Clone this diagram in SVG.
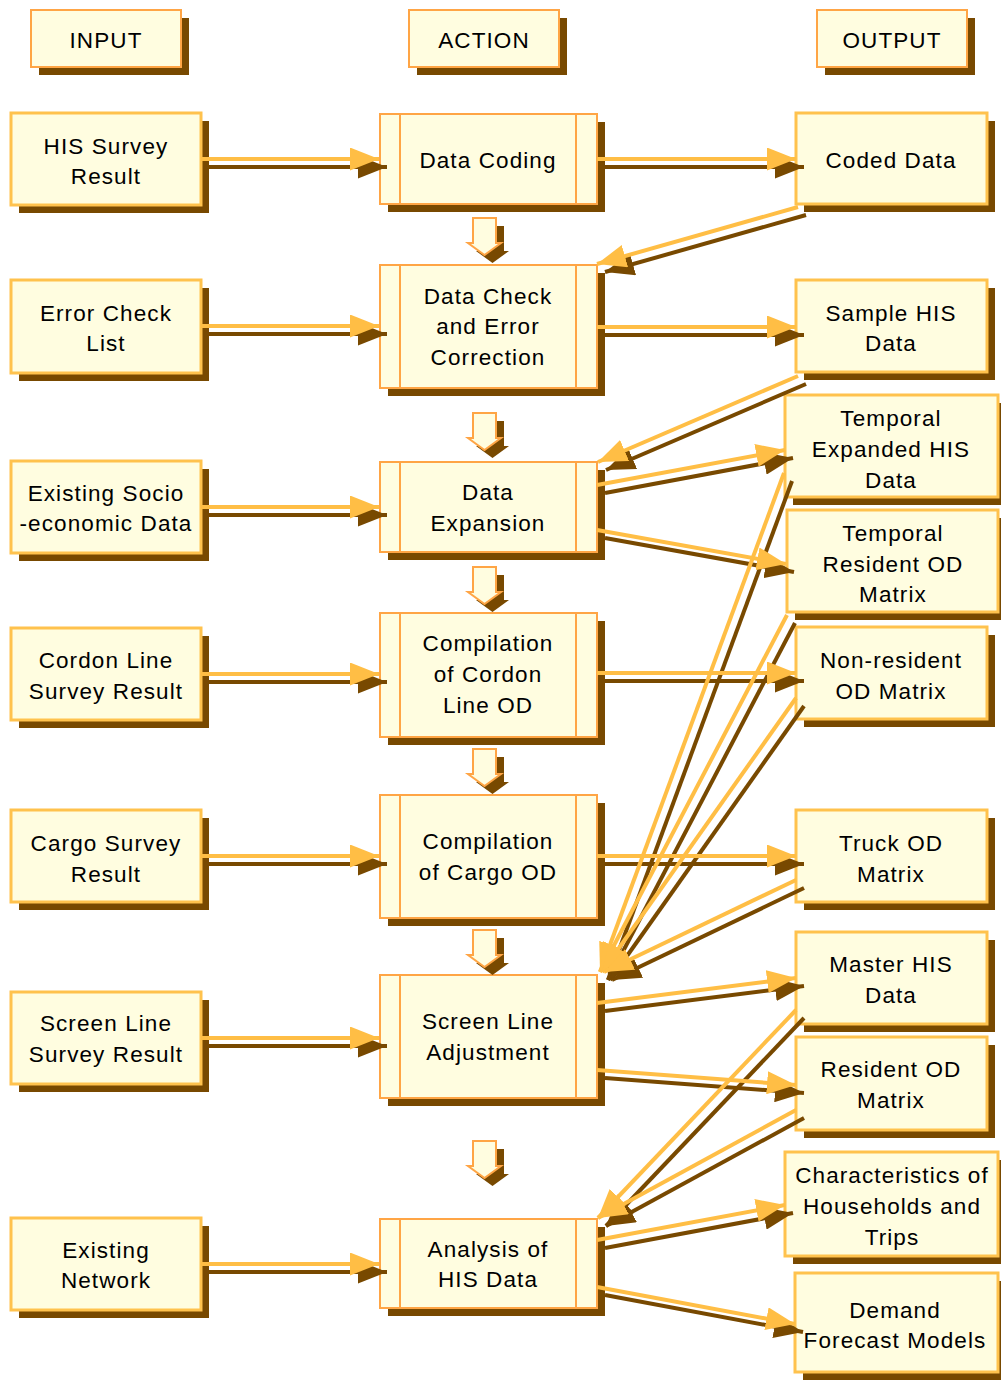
<svg xmlns="http://www.w3.org/2000/svg" width="1001" height="1383" viewBox="0 0 1001 1383">
<style>
.sh{fill:#784900}
.hd{fill:#FFFDE0;stroke:#FFA545;stroke-width:2}
.io{fill:#FFFDE0;stroke:#FFC24D;stroke-width:3}
.ac{fill:#FFFDE0;stroke:#FFA545;stroke-width:2}
.ln{stroke:#FFA545;stroke-width:2}
.da{fill:#FFFDE0;stroke:#FFA545;stroke-width:2}
text{font-family:"Liberation Sans",Arial,sans-serif;font-size:22.5px;letter-spacing:1.1px;fill:#000;text-anchor:middle}
.cy{stroke:#FFBE45;stroke-width:4;fill:none;marker-end:url(#ay)}
.cb{stroke:#784900;stroke-width:4;fill:none;marker-end:url(#ab)}
</style>
<defs>
<marker id="ay" viewBox="0 0 29 23" refX="29" refY="11.5" markerWidth="29" markerHeight="23" markerUnits="userSpaceOnUse" orient="auto"><path d="M0,0 L29,11.5 L0,23 Z" fill="#FFBE45"/></marker>
<marker id="ab" viewBox="0 0 29 23" refX="29" refY="11.5" markerWidth="29" markerHeight="23" markerUnits="userSpaceOnUse" orient="auto"><path d="M0,0 L29,11.5 L0,23 Z" fill="#784900"/></marker>
<path id="darrow" d="M-11.5,0 H11.5 V25 H16.5 L0,37 L-16.5,25 H-11.5 Z"/>
</defs>
<rect width="1001" height="1383" fill="#fff"/>

<g id="headers">
<g id="h-input"><rect class="sh" x="39" y="18" width="150" height="57"/><rect class="hd" x="31" y="10" width="150" height="57"/><text x="106" y="48">INPUT</text></g>
<g id="h-action"><rect class="sh" x="417" y="18" width="150" height="57"/><rect class="hd" x="409" y="10" width="150" height="57"/><text x="484" y="48">ACTION</text></g>
<g id="h-output"><rect class="sh" x="825" y="18" width="150" height="57"/><rect class="hd" x="817" y="10" width="150" height="57"/><text x="892" y="48">OUTPUT</text></g>
</g>

<g id="inputs">
<g id="in1"><rect class="sh" x="19" y="121" width="190" height="92"/><rect class="io" x="11" y="113" width="190" height="92"/><text x="106" y="154">HIS Survey</text><text x="106" y="184">Result</text></g>
<g id="in2"><rect class="sh" x="19" y="288" width="190" height="93"/><rect class="io" x="11" y="280" width="190" height="93"/><text x="106" y="321">Error Check</text><text x="106" y="351">List</text></g>
<g id="in3"><rect class="sh" x="19" y="469" width="190" height="92"/><rect class="io" x="11" y="461" width="190" height="92"/><text x="106" y="501">Existing Socio</text><text x="106" y="531">-economic Data</text></g>
<g id="in4"><rect class="sh" x="19" y="636" width="190" height="92"/><rect class="io" x="11" y="628" width="190" height="92"/><text x="106" y="668">Cordon Line</text><text x="106" y="699">Survey Result</text></g>
<g id="in5"><rect class="sh" x="19" y="818" width="190" height="92"/><rect class="io" x="11" y="810" width="190" height="92"/><text x="106" y="851">Cargo Survey</text><text x="106" y="882">Result</text></g>
<g id="in6"><rect class="sh" x="19" y="1000" width="190" height="92"/><rect class="io" x="11" y="992" width="190" height="92"/><text x="106" y="1031">Screen Line</text><text x="106" y="1062">Survey Result</text></g>
<g id="in7"><rect class="sh" x="19" y="1226" width="190" height="92"/><rect class="io" x="11" y="1218" width="190" height="92"/><text x="106" y="1258">Existing</text><text x="106" y="1288">Network</text></g>
</g>

<g id="actions">
<g id="ac1"><rect class="sh" x="388" y="122" width="217" height="90"/><rect class="ac" x="380" y="114" width="217" height="90"/><line class="ln" x1="400" y1="114" x2="400" y2="204"/><line class="ln" x1="576" y1="114" x2="576" y2="204"/><text x="488" y="168">Data Coding</text></g>
<g id="ac2"><rect class="sh" x="388" y="273" width="217" height="123"/><rect class="ac" x="380" y="265" width="217" height="123"/><line class="ln" x1="400" y1="265" x2="400" y2="388"/><line class="ln" x1="576" y1="265" x2="576" y2="388"/><text x="488" y="304">Data Check</text><text x="488" y="334">and Error</text><text x="488" y="365">Correction</text></g>
<g id="ac3"><rect class="sh" x="388" y="470" width="217" height="90"/><rect class="ac" x="380" y="462" width="217" height="90"/><line class="ln" x1="400" y1="462" x2="400" y2="552"/><line class="ln" x1="576" y1="462" x2="576" y2="552"/><text x="488" y="500">Data</text><text x="488" y="531">Expansion</text></g>
<g id="ac4"><rect class="sh" x="388" y="621" width="217" height="124"/><rect class="ac" x="380" y="613" width="217" height="124"/><line class="ln" x1="400" y1="613" x2="400" y2="737"/><line class="ln" x1="576" y1="613" x2="576" y2="737"/><text x="488" y="651">Compilation</text><text x="488" y="682">of Cordon</text><text x="488" y="713">Line OD</text></g>
<g id="ac5"><rect class="sh" x="388" y="803" width="217" height="123"/><rect class="ac" x="380" y="795" width="217" height="123"/><line class="ln" x1="400" y1="795" x2="400" y2="918"/><line class="ln" x1="576" y1="795" x2="576" y2="918"/><text x="488" y="849">Compilation</text><text x="488" y="880">of Cargo OD</text></g>
<g id="ac6"><rect class="sh" x="388" y="983" width="217" height="123"/><rect class="ac" x="380" y="975" width="217" height="123"/><line class="ln" x1="400" y1="975" x2="400" y2="1098"/><line class="ln" x1="576" y1="975" x2="576" y2="1098"/><text x="488" y="1029">Screen Line</text><text x="488" y="1060">Adjustment</text></g>
<g id="ac7"><rect class="sh" x="388" y="1227" width="217" height="89"/><rect class="ac" x="380" y="1219" width="217" height="89"/><line class="ln" x1="400" y1="1219" x2="400" y2="1308"/><line class="ln" x1="576" y1="1219" x2="576" y2="1308"/><text x="488" y="1257">Analysis of</text><text x="488" y="1287">HIS Data</text></g>
</g>

<g id="down-arrows">
<g transform="translate(484.5,218)"><use href="#darrow" class="sh" x="8" y="8"/><use href="#darrow" class="da"/></g>
<g transform="translate(484.5,413)"><use href="#darrow" class="sh" x="8" y="8"/><use href="#darrow" class="da"/></g>
<g transform="translate(484.5,567)"><use href="#darrow" class="sh" x="8" y="8"/><use href="#darrow" class="da"/></g>
<g transform="translate(484.5,749)"><use href="#darrow" class="sh" x="8" y="8"/><use href="#darrow" class="da"/></g>
<g transform="translate(484.5,930)"><use href="#darrow" class="sh" x="8" y="8"/><use href="#darrow" class="da"/></g>
<g transform="translate(484.5,1141)"><use href="#darrow" class="sh" x="8" y="8"/><use href="#darrow" class="da"/></g>
</g>

<g id="outputs">
<g id="out1"><rect class="sh" x="804" y="121" width="191" height="91"/><rect class="io" x="796" y="113" width="191" height="91"/><text x="891" y="168">Coded Data</text></g>
<g id="out2"><rect class="sh" x="804" y="288" width="191" height="92"/><rect class="io" x="796" y="280" width="191" height="92"/><text x="891" y="321">Sample HIS</text><text x="891" y="351">Data</text></g>
<g id="out3"><rect class="sh" x="793" y="403" width="213" height="102"/><rect class="io" x="785" y="395" width="213" height="102"/><text x="891" y="426">Temporal</text><text x="891" y="457">Expanded HIS</text><text x="891" y="488">Data</text></g>
<g id="out4"><rect class="sh" x="795" y="518" width="211" height="102"/><rect class="io" x="787" y="510" width="211" height="102"/><text x="893" y="541">Temporal</text><text x="893" y="572">Resident OD</text><text x="893" y="602">Matrix</text></g>
<g id="out5"><rect class="sh" x="804" y="635" width="191" height="92"/><rect class="io" x="796" y="627" width="191" height="92"/><text x="891" y="668">Non-resident</text><text x="891" y="699">OD Matrix</text></g>
<g id="out6"><rect class="sh" x="804" y="818" width="191" height="92"/><rect class="io" x="796" y="810" width="191" height="92"/><text x="891" y="851">Truck OD</text><text x="891" y="882">Matrix</text></g>
<g id="out7"><rect class="sh" x="804" y="940" width="191" height="92"/><rect class="io" x="796" y="932" width="191" height="92"/><text x="891" y="972">Master HIS</text><text x="891" y="1003">Data</text></g>
<g id="out8"><rect class="sh" x="804" y="1045" width="191" height="93"/><rect class="io" x="796" y="1037" width="191" height="93"/><text x="891" y="1077">Resident OD</text><text x="891" y="1108">Matrix</text></g>
<g id="out9"><rect class="sh" x="793" y="1160" width="213" height="104"/><rect class="io" x="785" y="1152" width="213" height="104"/><text x="892" y="1183">Characteristics of</text><text x="892" y="1214">Households and</text><text x="892" y="1245">Trips</text></g>
<g id="out10"><rect class="sh" x="803" y="1281" width="203" height="99"/><rect class="io" x="795" y="1273" width="203" height="99"/><text x="895" y="1318">Demand</text><text x="895" y="1348">Forecast Models</text></g>
</g>

<g id="connectors">
<g id="conn-shadow" transform="translate(8,8)">
<line class="cb" x1="201" y1="159" x2="379" y2="159"/>
<line class="cb" x1="201" y1="326" x2="379" y2="326"/>
<line class="cb" x1="201" y1="507" x2="379" y2="507"/>
<line class="cb" x1="201" y1="674" x2="379" y2="674"/>
<line class="cb" x1="201" y1="856" x2="379" y2="856"/>
<line class="cb" x1="201" y1="1038" x2="379" y2="1038"/>
<line class="cb" x1="201" y1="1264" x2="379" y2="1264"/>
<line class="cb" x1="597" y1="159" x2="796" y2="159"/>
<line class="cb" x1="597" y1="327" x2="796" y2="327"/>
<line class="cb" x1="597" y1="673" x2="796" y2="673"/>
<line class="cb" x1="597" y1="856" x2="796" y2="856"/>
<line class="cb" x1="798" y1="207" x2="597" y2="264"/>
<line class="cb" x1="798" y1="376" x2="598" y2="462"/>
<line class="cb" x1="597" y1="485" x2="785" y2="450"/>
<line class="cb" x1="597" y1="530" x2="786" y2="564"/>
<line class="cb" x1="784" y1="473" x2="600" y2="972"/>
<line class="cb" x1="787" y1="615" x2="600" y2="972"/>
<line class="cb" x1="796" y1="698" x2="602" y2="972"/>
<line class="cb" x1="796" y1="880" x2="604" y2="972"/>
<line class="cb" x1="597" y1="1003" x2="796" y2="978"/>
<line class="cb" x1="597" y1="1070" x2="796" y2="1085"/>
<line class="cb" x1="796" y1="1010" x2="598" y2="1218"/>
<line class="cb" x1="796" y1="1110" x2="598" y2="1218"/>
<line class="cb" x1="597" y1="1240" x2="785" y2="1205"/>
<line class="cb" x1="597" y1="1287" x2="795" y2="1324"/>
</g>
<g id="conn-main">
<line class="cy" x1="201" y1="159" x2="379" y2="159"/>
<line class="cy" x1="201" y1="326" x2="379" y2="326"/>
<line class="cy" x1="201" y1="507" x2="379" y2="507"/>
<line class="cy" x1="201" y1="674" x2="379" y2="674"/>
<line class="cy" x1="201" y1="856" x2="379" y2="856"/>
<line class="cy" x1="201" y1="1038" x2="379" y2="1038"/>
<line class="cy" x1="201" y1="1264" x2="379" y2="1264"/>
<line class="cy" x1="597" y1="159" x2="796" y2="159"/>
<line class="cy" x1="597" y1="327" x2="796" y2="327"/>
<line class="cy" x1="597" y1="673" x2="796" y2="673"/>
<line class="cy" x1="597" y1="856" x2="796" y2="856"/>
<line class="cy" x1="798" y1="207" x2="597" y2="264"/>
<line class="cy" x1="798" y1="376" x2="598" y2="462"/>
<line class="cy" x1="597" y1="485" x2="785" y2="450"/>
<line class="cy" x1="597" y1="530" x2="786" y2="564"/>
<line class="cy" x1="784" y1="473" x2="600" y2="972"/>
<line class="cy" x1="787" y1="615" x2="600" y2="972"/>
<line class="cy" x1="796" y1="698" x2="602" y2="972"/>
<line class="cy" x1="796" y1="880" x2="604" y2="972"/>
<line class="cy" x1="597" y1="1003" x2="796" y2="978"/>
<line class="cy" x1="597" y1="1070" x2="796" y2="1085"/>
<line class="cy" x1="796" y1="1010" x2="598" y2="1218"/>
<line class="cy" x1="796" y1="1110" x2="598" y2="1218"/>
<line class="cy" x1="597" y1="1240" x2="785" y2="1205"/>
<line class="cy" x1="597" y1="1287" x2="795" y2="1324"/>
</g>
</g>
</svg>
